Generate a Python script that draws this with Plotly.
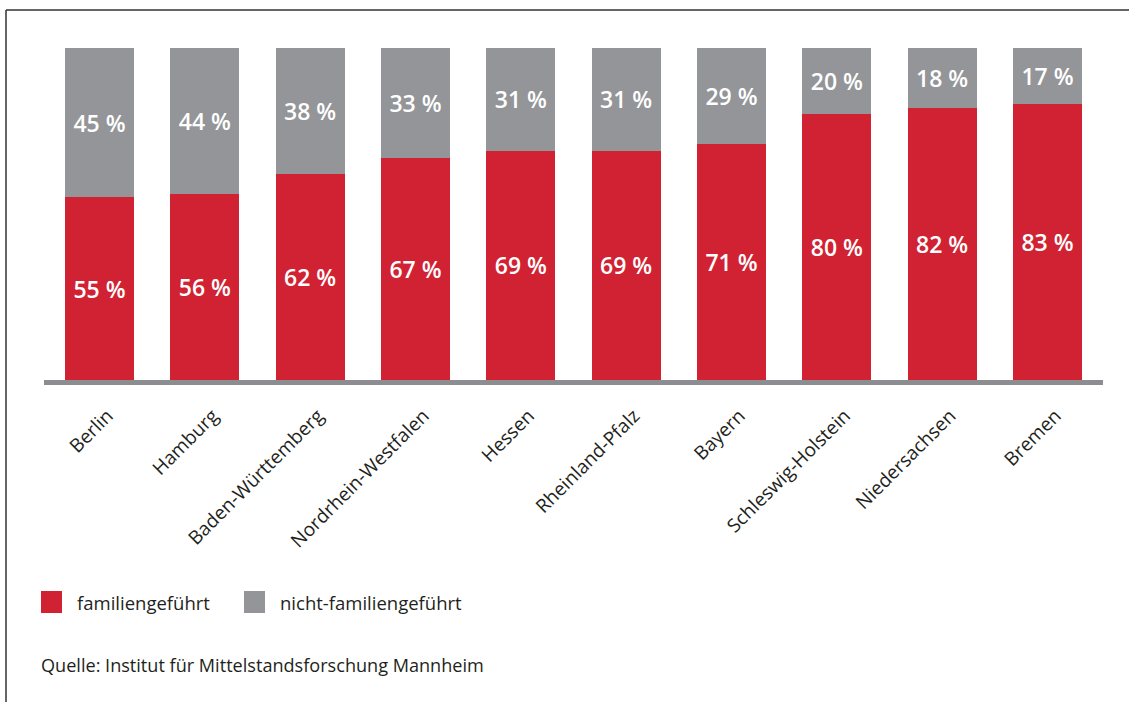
import plotly.graph_objects as go

categories = ["Berlin", "Hamburg", "Baden-Württemberg", "Nordrhein-Westfalen", "Hessen",
              "Rheinland-Pfalz", "Bayern", "Schleswig-Holstein", "Niedersachsen", "Bremen"]
familie = [55, 56, 62, 67, 69, 69, 71, 80, 82, 83]
nicht_familie = [45, 44, 38, 33, 31, 31, 29, 20, 18, 17]
series_names = ["familiengeführt", "nicht-familiengeführt"]
source_text = "Quelle: Institut für Mittelstandsforschung Mannheim"

RED = "#d12233"
GRAY = "#939598"
FONT = "Open Sans"

W, H = 1129, 702
L, R, T, B = 44, 1103, 48, 380  # plot area in pixels


def px(x):
    return (x - L) / (R - L)


def py(y):
    return (B - y) / (B - T)


xs = list(range(len(categories)))

fig = go.Figure()
fig.add_trace(go.Bar(
    x=xs, y=familie, name=series_names[0], marker=dict(color=RED, line=dict(width=0)),
    width=0.655, text=[f"{v} %" for v in familie], textposition="inside",
    insidetextanchor="middle", textangle=0,
    textfont=dict(family=FONT, size=23, color="white", weight=600),
    showlegend=False, hoverinfo="skip"))
fig.add_trace(go.Bar(
    x=xs, y=nicht_familie, name=series_names[1], marker=dict(color=GRAY, line=dict(width=0)),
    width=0.655, text=[f"{v} %" for v in nicht_familie], textposition="inside",
    insidetextanchor="middle", textangle=0,
    textfont=dict(family=FONT, size=23, color="white", weight=600),
    showlegend=False, hoverinfo="skip"))

shapes = []
# baseline
shapes.append(dict(type="rect", xref="paper", yref="paper", x0=0, x1=1, y0=py(385), y1=py(380),
                   fillcolor="#8c8d90", line=dict(width=0), layer="above"))
# frame
shapes.append(dict(type="line", xref="paper", yref="paper", x0=px(6), x1=px(1129), y0=py(10), y1=py(10),
                   line=dict(color="#333333", width=1.5)))
shapes.append(dict(type="line", xref="paper", yref="paper", x0=px(6), x1=px(6), y0=py(10), y1=py(702),
                   line=dict(color="#333333", width=1.5)))
# legend squares
for x0, col in [(41, RED), (244, GRAY)]:
    shapes.append(dict(type="rect", xref="paper", yref="paper", x0=px(x0), x1=px(x0 + 21),
                       y0=py(613), y1=py(591), fillcolor=col, line=dict(width=0)))

annotations = []
for xt, name in [(75, series_names[0]), (278, series_names[1])]:
    annotations.append(dict(xref="paper", yref="paper", x=px(xt), y=py(602), text=name,
                            showarrow=False, xanchor="left", yanchor="middle",
                            font=dict(family=FONT, size=18.5, color="#231f20")))
annotations.append(dict(xref="paper", yref="paper", x=px(39), y=py(665), text=source_text,
                        showarrow=False, xanchor="left", yanchor="middle",
                        font=dict(family=FONT, size=18.1, color="#231f20")))

fig.update_layout(
    width=W, height=H, barmode="stack",
    margin=dict(l=L, r=W - R, t=T, b=H - B, pad=0),
    paper_bgcolor="white", plot_bgcolor="white",
    showlegend=False,
    shapes=shapes, annotations=annotations,
    xaxis=dict(tickmode="array", tickvals=xs, ticktext=categories, range=[-0.527, 9.527],
               tickangle=-45, showgrid=False, zeroline=False, showline=False, ticks="",
               ticklabelstandoff=20, ticklabelshift=8,
               tickfont=dict(family=FONT, size=19, color="#231f20")),
    yaxis=dict(range=[0, 100], showgrid=False, zeroline=False, showline=False,
               showticklabels=False, ticks=""),
)

fig.write_html("out.html", config={"displayModeBar": False, "staticPlot": True},
               post_script="document.body.style.margin='0';document.body.style.overflow='hidden';")
